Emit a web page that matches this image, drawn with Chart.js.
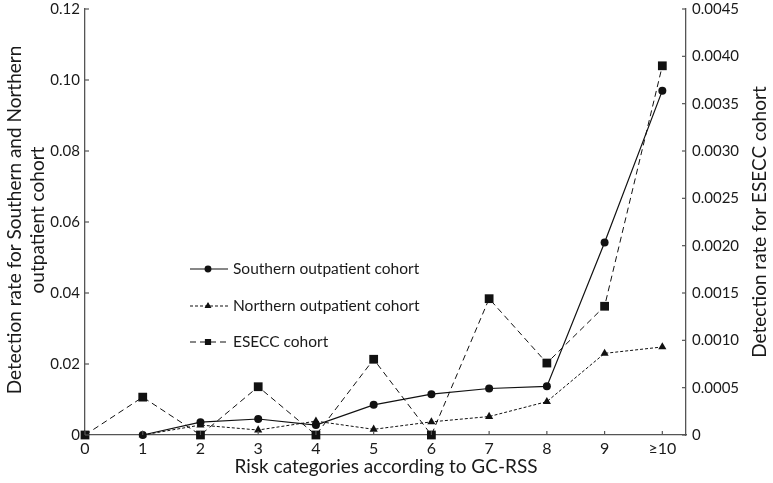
<!DOCTYPE html>
<html><head><meta charset="utf-8">
<script src="https://cdn.jsdelivr.net/npm/chart.js@4"></script>
<style>html,body{margin:0;padding:0;background:#fff}#wrap{width:773px;height:483px}</style>
</head><body><div id="wrap"><canvas id="c" width="773" height="483"></canvas></div>
<script>
const categories = ['0','1','2','3','4','5','6','7','8','9','≥10'];
const southern = [null,0,0.0036,0.0045,0.0028,0.0085,0.0115,0.0131,0.0137,0.0542,0.097];
const northern = [null,0,0.0028,0.0014,0.0039,0.0016,0.0037,0.0052,0.0094,0.0230,0.0248];
const esecc = [0,0.0004,0,0.00051,0,0.0008,0,0.00144,0.00076,0.00136,0.0039];
const leftTicks = [0,0.02,0.04,0.06,0.08,0.10,0.12];
const rightTicks = [0,0.0005,0.0010,0.0015,0.0020,0.0025,0.0030,0.0035,0.0040,0.0045];
const seriesNames = ['Southern outpatient cohort','Northern outpatient cohort','ESECC cohort'];
const xTitle = 'Risk categories according to GC-RSS';
const leftTitle = ['Detection rate for Southern and Northern','outpatient cohort'];
const rightTitle = 'Detection rate for ESECC cohort';

const FONT = 'Lato';
const INK = '#111';
const AX = '#555';
const TXT = '#1a1a1a';

function pts(arr){ return arr.map((v,i)=>({x:i,y:v})); }

const inwardTicks = {
  id:'inwardTicks',
  afterDraw(chart){
    const ctx = chart.ctx, a = chart.chartArea;
    ctx.save(); ctx.strokeStyle = AX; ctx.lineWidth = 1.2;
    const yl = chart.scales.y, yr = chart.scales.y2, x = chart.scales.x;
    leftTicks.forEach(v=>{const p=yl.getPixelForValue(v);ctx.beginPath();ctx.moveTo(a.left,p);ctx.lineTo(a.left+4,p);ctx.stroke();});
    rightTicks.forEach(v=>{const p=yr.getPixelForValue(v);ctx.beginPath();ctx.moveTo(a.right,p);ctx.lineTo(a.right-4,p);ctx.stroke();});
    categories.forEach((c,i)=>{const p=x.getPixelForValue(i);ctx.beginPath();ctx.moveTo(p,a.bottom);ctx.lineTo(p,a.bottom-4);ctx.stroke();});
    // axis titles (both vertical titles read bottom-to-top)
    const cy = (a.top+a.bottom)/2;
    ctx.fillStyle = TXT; ctx.font = '19px '+FONT; ctx.textAlign='center'; ctx.textBaseline='middle';
    ctx.save(); ctx.translate(15,cy-2); ctx.rotate(-Math.PI/2); ctx.fillText(leftTitle[0],0,0); ctx.restore();
    ctx.save(); ctx.translate(38,cy-2); ctx.rotate(-Math.PI/2); ctx.fillText(leftTitle[1],0,0); ctx.restore();
    ctx.save(); ctx.translate(760,cy); ctx.rotate(-Math.PI/2); ctx.fillText(rightTitle,0,0); ctx.restore();
    ctx.fillText(xTitle,386,467);
    ctx.restore();
  }
};

const innerLegend = {
  id:'innerLegend',
  afterDraw(chart){
    const ctx = chart.ctx;
    const rows = [269,306,342];
    chart.data.datasets.forEach((ds,i)=>{
      const y = rows[i];
      ctx.save();
      ctx.strokeStyle = INK; ctx.lineWidth = 1.1;
      ctx.setLineDash(ds.borderDash||[]);
      ctx.beginPath(); ctx.moveTo(190,y); ctx.lineTo(228,y); ctx.stroke();
      ctx.setLineDash([]);
      ctx.fillStyle = INK;
      Chart.helpers.drawPoint(ctx,{pointStyle:ds.pointStyle,radius:ds.pointStyle==='rect'?3.6:2.9,rotation:0,borderWidth:1},208,y);
      ctx.fillStyle = TXT;
      ctx.font = '15.5px '+FONT;
      ctx.textBaseline = 'middle';
      ctx.fillText(ds.label,233,y);
      ctx.restore();
    });
  }
};

new Chart(document.getElementById('c'),{
  type:'line',
  data:{datasets:[
    {label:seriesNames[0],data:pts(southern),yAxisID:'y',borderColor:INK,backgroundColor:INK,borderWidth:1.2,pointStyle:'circle',pointRadius:4,pointBorderWidth:0,clip:false},
    {label:seriesNames[1],data:pts(northern),yAxisID:'y',borderColor:INK,backgroundColor:INK,borderWidth:1,borderDash:[3,2],pointStyle:'triangle',pointRadius:4.7,pointBorderWidth:0,clip:false},
    {label:seriesNames[2],data:pts(esecc),yAxisID:'y2',borderColor:INK,backgroundColor:INK,borderWidth:1,borderDash:[6,4],pointStyle:'rect',pointRadius:6.2,pointBorderWidth:0,clip:false}
  ]},
  options:{
    responsive:false, animation:false, devicePixelRatio:1,
    layout:{padding:{top:9,left:0,right:0,bottom:0}},
    plugins:{legend:{display:false},tooltip:{enabled:false}},
    elements:{line:{tension:0}},
    scales:{
      x:{type:'linear',min:0,max:10.41,
        afterBuildTicks(s){s.ticks=categories.map((c,i)=>({value:i}));},
        afterFit(s){s.height=48;},
        grid:{display:false,drawTicks:false},border:{display:true,color:AX,width:1.3},
        ticks:{color:TXT,font:{family:FONT,size:16},padding:4,maxRotation:0,autoSkip:false,callback:(v)=>categories[v]},
        title:{display:false}
      },
      y:{position:'left',min:0,max:0.12,
        afterBuildTicks(s){s.ticks=leftTicks.map(v=>({value:v}));},
        afterFit(s){s.width=85;s.paddingTop=0;s.paddingBottom=0;},
        grid:{display:false,drawTicks:false},border:{display:true,color:AX,width:1.3},
        ticks:{color:TXT,font:{family:FONT,size:15},padding:5,callback:(v)=>v===0?'0':v.toFixed(2)},
        title:{display:false}
      },
      y2:{position:'right',min:0,max:0.0045,
        afterBuildTicks(s){s.ticks=rightTicks.map(v=>({value:v}));},
        afterFit(s){s.width=87;s.paddingTop=0;s.paddingBottom=0;},
        grid:{display:false,drawTicks:false},border:{display:true,color:AX,width:1.3},
        ticks:{color:TXT,font:{family:FONT,size:15},padding:6,callback:(v)=>v===0?'0':v.toFixed(4)},
        title:{display:false}
      }
    }
  },
  plugins:[inwardTicks,innerLegend]
});
</script></body></html>
